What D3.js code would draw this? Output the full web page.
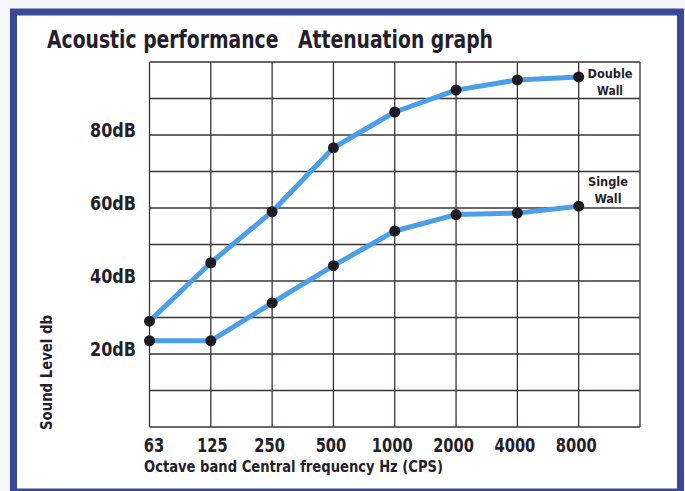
<!DOCTYPE html>
<html>
<head>
<meta charset="utf-8">
<script src="https://cdn.jsdelivr.net/npm/d3@7"></script>
<style>
  html, body { margin: 0; padding: 0; background: #f6f6f8; }
  svg { display: block; }
  text { font-family: "DejaVu Sans Condensed", "Open Sans", sans-serif; font-weight: bold; fill: #241e2b; }
</style>
</head>
<body>
<script>
const frequencies = ["63", "125", "250", "500", "1000", "2000", "4000", "8000"];
const doubleWall = [29, 45, 59, 76.5, 86.3, 92.3, 95.1, 95.9];
const singleWall = [23.6, 23.6, 34, 44.2, 53.7, 58.2, 58.6, 60.5];
const yTickLabels = [20, 40, 60, 80];
const yGridValues = [0, 10, 20, 30, 40, 50, 60, 70, 80, 90, 100];

const W = 685, H = 491;
const svg = d3.select("body").append("svg").attr("width", W).attr("height", H);

// frame
svg.append("rect").attr("x", 13.5).attr("y", 12).attr("width", 667).attr("height", 480)
  .attr("fill", "#ffffff").attr("stroke", "#3b4899").attr("stroke-width", 7);

const x = d3.scaleLinear().domain([0, 8]).range([149.5, 640]);
const y = d3.scaleLinear().domain([0, 100]).range([427, 62]);

// grid
const grid = svg.append("g");
grid.selectAll("line.v").data(d3.range(0, 9)).join("line")
  .attr("x1", d => x(d)).attr("x2", d => x(d)).attr("y1", y(100)).attr("y2", y(0))
  .attr("stroke", "#3a3438").attr("stroke-width", 1.3);
grid.selectAll("line.h").data(yGridValues).join("line")
  .attr("x1", x(0)).attr("x2", x(8)).attr("y1", d => y(d)).attr("y2", d => y(d))
  .attr("stroke", "#3a3438").attr("stroke-width", 1.3);

// axes labels via d3 axes
const xAxis = d3.axisBottom(x).tickValues(d3.range(0, 8)).tickFormat(i => frequencies[i]).tickSize(0).tickPadding(0);
const gx = svg.append("g").attr("transform", `translate(0,${y(0)})`).call(xAxis);
gx.select(".domain").remove();
gx.selectAll("text").attr("dy", null).attr("y", 25).attr("dx", (d, i) => i === 0 ? 4 : (i === 1 ? 1 : -3))
  .style("font-size", "20px").attr("fill", "#241e2b")
  .attr("textLength", (d, i) => frequencies[i].length * 10.2).attr("lengthAdjust", "spacingAndGlyphs");

const yAxis = d3.axisLeft(y).tickValues(yTickLabels).tickFormat(d => d + "dB").tickSize(0).tickPadding(0);
const gy = svg.append("g").attr("transform", `translate(136,0)`).call(yAxis);
gy.select(".domain").remove();
gy.selectAll("text").attr("dy", "0").attr("y", 1).attr("x", 0)
  .style("font-size", "20px").attr("fill", "#241e2b")
  .attr("textLength", 46).attr("lengthAdjust", "spacingAndGlyphs");
svg.selectAll(".tick text").style("font-family", "'DejaVu Sans Condensed', sans-serif").style("font-weight", "bold");

// lines
const line = d3.line().x((d, i) => x(i)).y(d => y(d)).curve(d3.curveLinear);
[doubleWall, singleWall].forEach(series => {
  svg.append("path").datum(series).attr("d", line)
    .attr("fill", "none").attr("stroke", "#4a9fe8").attr("stroke-width", 5)
    .attr("stroke-linecap", "round").attr("stroke-linejoin", "round");
  svg.append("g").selectAll("circle").data(series).join("circle")
    .attr("cx", (d, i) => x(i)).attr("cy", d => y(d)).attr("r", 5.5).attr("fill", "#1e1a22");
});

// title
svg.append("text").attr("x", 47).attr("y", 48).style("font-size", "24px")
  .attr("textLength", 446).attr("lengthAdjust", "spacingAndGlyphs")
  .attr("xml:space", "preserve").style("white-space", "pre")
  .text("Acoustic performance   Attenuation graph");

// axis titles
svg.append("text").attr("x", 144).attr("y", 472).style("font-size", "16px")
  .attr("textLength", 299).attr("lengthAdjust", "spacingAndGlyphs")
  .text("Octave band Central frequency Hz (CPS)");
svg.append("text").attr("transform", "translate(52,430) rotate(-90)").style("font-size", "16px")
  .attr("textLength", 115).attr("lengthAdjust", "spacingAndGlyphs")
  .text("Sound Level db");

// series labels
const labels = [
  { lines: ["Double", "Wall"], widths: [45, 26], x: 610, y: [78, 95] },
  { lines: ["Single", "Wall"], widths: [40, 27], x: 608, y: [186, 203] }
];
labels.forEach(l => {
  l.lines.forEach((t, i) => {
    svg.append("text").attr("x", l.x).attr("y", l.y[i]).attr("text-anchor", "middle")
      .style("font-size", "13px")
      .attr("textLength", l.widths[i]).attr("lengthAdjust", "spacingAndGlyphs")
      .text(t);
  });
});
</script>
</body>
</html>
